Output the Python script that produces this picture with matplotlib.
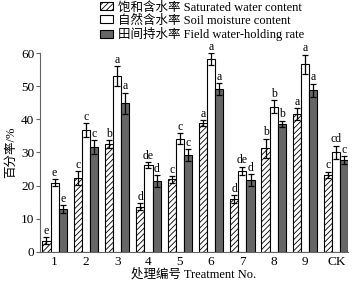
import numpy as np
import matplotlib.pyplot as plt
from matplotlib.patches import Patch

plt.rcParams['font.family'] = ['Liberation Serif', 'Noto Sans CJK SC']
plt.rcParams['hatch.linewidth'] = 0.6

groups = ['1', '2', '3', '4', '5', '6', '7', '8', '9', 'CK']

sat = [3.4, 22.2, 32.6, 13.7, 21.9, 38.8, 16.0, 31.3, 41.5, 23.2]
sat_err = [1.0, 2.1, 1.2, 1.0, 1.0, 0.9, 1.1, 2.9, 1.8, 1.0]
sat_let = ['e', 'c', 'b', 'd', 'c', 'a', 'd', 'b', 'a', 'c']

soil = [20.9, 36.8, 53.1, 26.2, 34.2, 58.1, 24.5, 43.8, 56.6, 30.1]
soil_err = [1.0, 2.0, 2.9, 0.9, 1.6, 1.8, 1.2, 2.0, 2.9, 2.0]
soil_let = ['e', 'c', 'a', 'de', 'c', 'a', 'de', 'b', 'a', 'cd']

field = [12.9, 31.7, 44.8, 21.4, 29.2, 49.1, 21.7, 38.6, 48.8, 27.7]
field_err = [1.2, 2.1, 3.2, 1.8, 1.8, 1.9, 1.8, 1.0, 2.0, 1.2]
field_let = ['e', 'c', 'a', 'd', 'c', 'a', 'd', 'b', 'a', 'c']

fig = plt.figure(figsize=(3.56, 2.85), dpi=100)
ax = fig.add_axes([0.112, 0.116, 0.866, 0.698])

x = np.arange(len(groups))
w = 0.26
series = [
    (sat, sat_err, sat_let, dict(facecolor='white', hatch='//////')),
    (soil, soil_err, soil_let, dict(facecolor='white')),
    (field, field_err, field_let, dict(facecolor='#666666')),
]
for k, (vals, errs, lets, style) in enumerate(series):
    xs = x + (k - 1) * w
    ax.bar(xs, vals, w, edgecolor='black', linewidth=0.8, **style)
    ax.errorbar(xs, vals, yerr=errs, fmt='none', ecolor='black',
                elinewidth=0.9, capsize=2.5, capthick=0.9)
    for xi, v, e, t in zip(xs, vals, errs, lets):
        ax.text(xi, v + e + 0.1, t, ha='center', va='bottom',
                fontsize=8.5, clip_on=False)

ax.set_xlim(-0.47, 9.38)
ax.set_ylim(0, 60)
ax.set_yticks(range(0, 61, 10))
ax.set_xticks(x)
ax.set_xticklabels(groups)
ax.tick_params(axis='x', length=0, labelsize=9.5, pad=3)
ax.tick_params(axis='y', length=3, width=0.8, labelsize=9.5, pad=1, color='#666666')
for s in ['top', 'right']:
    ax.spines[s].set_visible(False)
ax.spines['left'].set_color('#666666')
ax.spines['bottom'].set_color('#666666')
ax.spines['left'].set_linewidth(0.8)
ax.spines['bottom'].set_linewidth(0.8)

ax.set_ylabel('百分率/%', fontsize=9, labelpad=3)
ax.set_xlabel('处理编号 Treatment No.', fontsize=9, labelpad=0)

handles = [
    Patch(facecolor='white', edgecolor='black', hatch='//////', linewidth=0.8),
    Patch(facecolor='white', edgecolor='black', linewidth=0.8),
    Patch(facecolor='#666666', edgecolor='black', linewidth=0.8),
]
labels = ['饱和含水率 Saturated water content',
          '自然含水率 Soil moisture content',
          '田间持水率 Field water-holding rate']
fig.legend(handles, labels, loc='upper left', bbox_to_anchor=(0.255, 1.025),
           frameon=False, fontsize=9, handlelength=1.1, handleheight=0.6,
           handletextpad=0.4, labelspacing=0.05, borderpad=0.2)

fig.savefig('out.png', dpi=100)
